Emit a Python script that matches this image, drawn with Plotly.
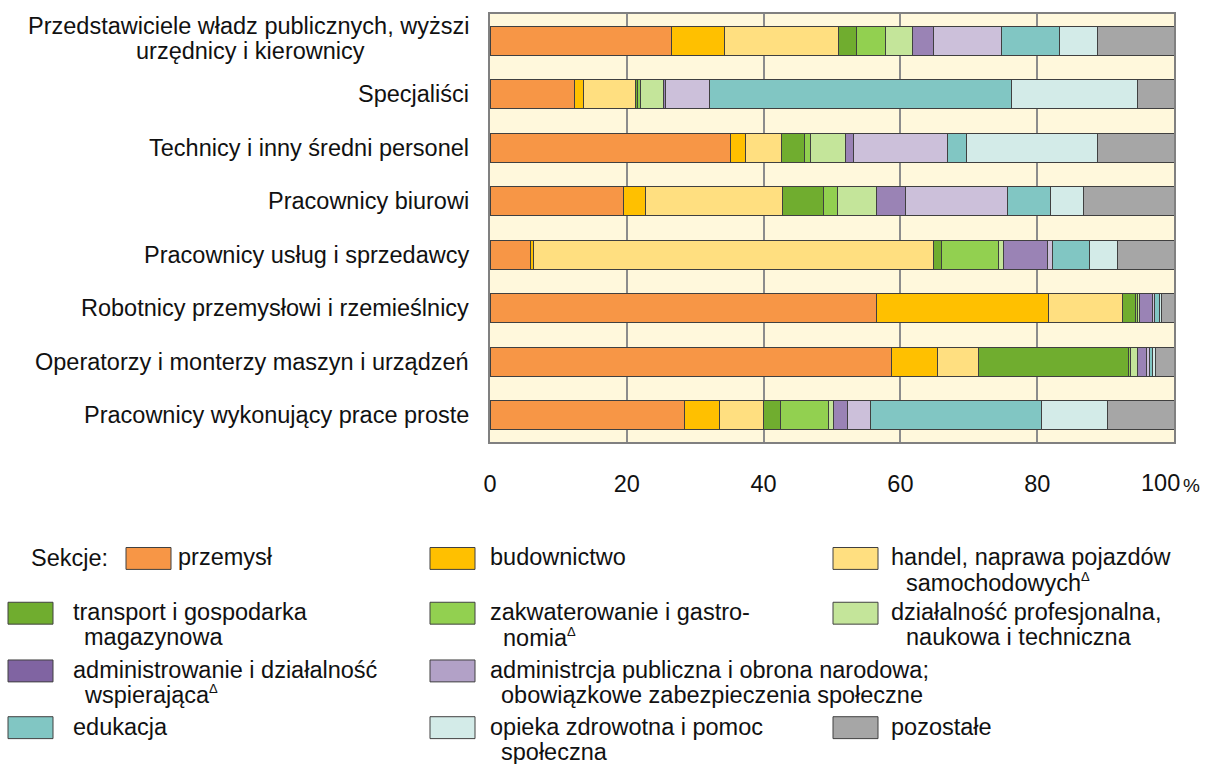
import plotly.graph_objects as go

# ---------------- data ----------------
categories = [
    "Przedstawiciele władz publicznych, wyższi urzędnicy i kierownicy",
    "Specjaliści",
    "Technicy i inny średni personel",
    "Pracownicy biurowi",
    "Pracownicy usług i sprzedawcy",
    "Robotnicy przemysłowi i rzemieślnicy",
    "Operatorzy i monterzy maszyn i urządzeń",
    "Pracownicy wykonujący prace proste",
]
# how each category label is broken into lines
category_lines = [
    ["Przedstawiciele władz publicznych, wyższi", "urzędnicy i kierownicy"],
    ["Specjaliści"],
    ["Technicy i inny średni personel"],
    ["Pracownicy biurowi"],
    ["Pracownicy usług i sprzedawcy"],
    ["Robotnicy przemysłowi i rzemieślnicy"],
    ["Operatorzy i monterzy maszyn i urządzeń"],
    ["Pracownicy wykonujący prace proste"],
]

przemysl        = [26.6, 12.3, 35.1, 19.5, 5.9, 56.5, 58.7, 28.4]
budownictwo     = [7.7, 1.3, 2.3, 3.3, 0.4, 25.1, 6.7, 5.1]
handel          = [16.7, 7.6, 5.2, 19.9, 58.6, 10.8, 6.0, 6.5]
transport       = [2.6, 0.4, 3.4, 6.1, 1.1, 1.9, 22.0, 2.5]
zakwaterowanie  = [4.2, 0.4, 0.9, 2.0, 8.3, 0.3, 0.2, 7.0]
dzialalnosc_prof = [3.9, 3.3, 5.1, 5.7, 0.7, 0.4, 1.1, 0.7]
administrowanie = [3.2, 0.4, 1.1, 4.3, 6.5, 1.9, 1.3, 2.0]
administracja_publ = [9.9, 6.4, 13.8, 14.8, 0.8, 0.3, 0.4, 3.5]
edukacja        = [8.5, 44.1, 2.8, 6.3, 5.3, 0.7, 0.4, 24.9]
opieka          = [5.5, 18.4, 19.1, 4.8, 4.1, 0.3, 0.5, 9.7]
pozostale       = [11.2, 5.4, 11.2, 13.3, 8.3, 1.8, 2.7, 9.7]

series_names = [
    "przemysł", "budownictwo", "handel, naprawa pojazdów samochodowych",
    "transport i gospodarka magazynowa", "zakwaterowanie i gastronomia",
    "działalność profesjonalna, naukowa i techniczna",
    "administrowanie i działalność wspierająca",
    "administrcja publiczna i obrona narodowa; obowiązkowe zabezpieczenia społeczne",
    "edukacja", "opieka zdrowotna i pomoc społeczna", "pozostałe",
]
series_values = [przemysl, budownictwo, handel, transport, zakwaterowanie,
                 dzialalnosc_prof, administrowanie, administracja_publ,
                 edukacja, opieka, pozostale]

x_ticks = [0, 20, 40, 60, 80, 100]
x_ticktext = ["0", "20", "40", "60", "80", ""]
last_tick_text = "100"
unit_text = "%"

# ---------------- styles ----------------
bar_colors = ["#F79646", "#FFC000", "#FFDF80", "#70AD2F", "#92D050", "#C4E59A",
              "#9A83B5", "#CCC0DA", "#81C6C3", "#D3EBE8", "#A6A6A6"]
legend_colors = ["#F79646", "#FFC000", "#FFDF80", "#70AD2F", "#92D050", "#C4E59A",
                 "#8064A2", "#B2A1C7", "#81C6C3", "#D3EBE8", "#A6A6A6"]

FONT = "Liberation Sans, Arial, sans-serif"
FS = 23.5
TXT = "#111111"
W, H = 1213, 764
L, R, T, B = 490, 1174, 12, 442   # plot area in px

fig = go.Figure()
for name, vals, col in zip(series_names, series_values, bar_colors):
    fig.add_trace(go.Bar(
        y=categories, x=vals, orientation="h", name=name,
        marker=dict(color=col, line=dict(color="#404040", width=1)),
        showlegend=False,
    ))

fig.update_layout(
    width=W, height=H,
    margin=dict(l=L, r=W - R, t=T, b=H - B, pad=0),
    barmode="stack", bargap=0.455,
    plot_bgcolor="#FFF8DC", paper_bgcolor="white",
    font=dict(family=FONT, size=FS, color=TXT),
    xaxis=dict(range=[0, 100], tickvals=x_ticks, ticktext=x_ticktext,
               showgrid=True, gridcolor="#8C8C8C", gridwidth=1.5,
               showline=True, linecolor="#808080", linewidth=1.5, mirror=True,
               ticks="", ticklabelstandoff=20, zeroline=False,
               tickfont=dict(size=FS, family=FONT, color=TXT)),
    yaxis=dict(categoryorder="array", categoryarray=categories, autorange="reversed",
               showticklabels=False, ticks="", showgrid=False,
               showline=True, linecolor="#808080", linewidth=1.5, mirror=True),
)

annotations = []
LINE = 25
# category labels (right aligned next to the axis; multi-line centred)
for c, lines in zip(categories, category_lines):
    n = len(lines)
    for i, ln in enumerate(lines):
        ys = (n - 1) / 2 * LINE - i * LINE
        if i == 0:
            annotations.append(dict(text=ln, xref="paper", yref="y", x=0, y=c,
                                    xanchor="right", yanchor="middle", xshift=-19,
                                    yshift=ys + (2 if n > 1 else 0), showarrow=False,
                                    font=dict(size=FS, family=FONT, color=TXT)))
        else:
            annotations.append(dict(text=ln, xref="paper", yref="y", x=0, y=c,
                                    xanchor="center", yanchor="middle", xshift=-240,
                                    yshift=ys + 2, showarrow=False,
                                    font=dict(size=FS, family=FONT, color=TXT)))

# "100%" label at the end of the axis
tick_y_shift = -41
annotations.append(dict(text=last_tick_text, xref="x", yref="paper", x=100, y=0,
                        xanchor="right", yanchor="middle", xshift=8, yshift=tick_y_shift,
                        showarrow=False, font=dict(size=FS, family=FONT, color=TXT)))
annotations.append(dict(text=unit_text, xref="x", yref="paper", x=100, y=0,
                        xanchor="left", yanchor="middle", xshift=7, yshift=tick_y_shift - 2,
                        showarrow=False, font=dict(size=19, family=FONT, color=TXT)))

def px_x(px):
    return (px - L) / (R - L)

def px_y(py):
    return (B - py) / (B - T)

shapes = []
def swatch(x0, y0, x1, y1, color):
    shapes.append(dict(type="rect", xref="paper", yref="paper",
                       x0=px_x(x0), x1=px_x(x1), y0=px_y(y1), y1=px_y(y0),
                       fillcolor=color, line=dict(color="#404040", width=1)))

def text_at(x, yc, s):
    annotations.append(dict(text=s, xref="paper", yref="paper", x=px_x(x), y=px_y(yc),
                            xanchor="left", yanchor="middle", showarrow=False,
                            font=dict(size=FS, family=FONT, color=TXT)))

D = "<sup><span style='font-size:13px'>Δ</span></sup>"
# legend layout (pixel positions): swatch x, swatch centre y, text x, 2nd line x, lines
text_at(29, 559, "Sekcje:")
legend_items = [
    (0, 126, 559, 176, None, [series_names[0]]),
    (1, 430, 559, 488, None, [series_names[1]]),
    (2, 833, 559, 889, 904, ["handel, naprawa pojazdów", "samochodowych" + D]),
    (3, 8, 614, 71, 82, ["transport i gospodarka", "magazynowa"]),
    (4, 430, 614, 488, 501, ["zakwaterowanie i gastro-", "nomia" + D]),
    (5, 833, 614, 889, 904, ["działalność profesjonalna,", "naukowa i techniczna"]),
    (6, 8, 672, 71, 82, ["administrowanie i działalność", "wspierająca" + D]),
    (7, 430, 672, 488, 499, ["administrcja publiczna i obrona narodowa;",
                             "obowiązkowe zabezpieczenia społeczne"]),
    (8, 8, 729, 71, None, [series_names[8]]),
    (9, 430, 729, 488, 499, ["opieka zdrowotna i pomoc", "społeczna"]),
    (10, 833, 729, 889, None, [series_names[10]]),
]
for idx, sx, yc, tx, tx2, lines in legend_items:
    swatch(sx, yc - 11, sx + 45, yc + 11, legend_colors[idx])
    text_at(tx, yc - 1, lines[0])
    if len(lines) > 1:
        text_at(tx2, yc - 1 + LINE, lines[1])

fig.update_layout(annotations=annotations, shapes=shapes)
fig.write_html("out.html", config={"displayModeBar": False},
               post_script="document.body.style.margin='0px';document.body.style.overflow='hidden';")
